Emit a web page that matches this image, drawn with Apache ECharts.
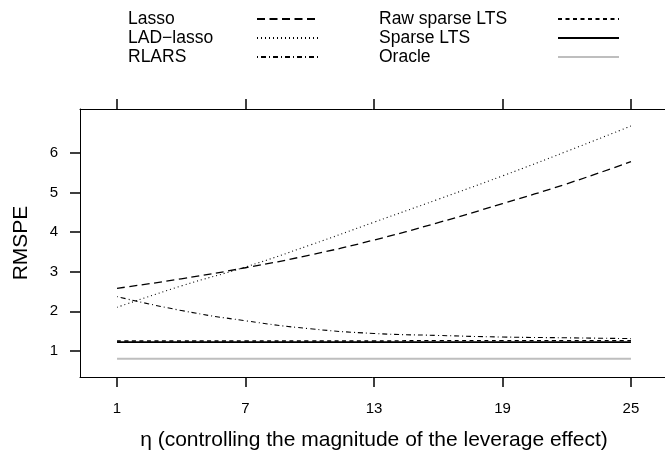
<!DOCTYPE html>
<html><head><meta charset="utf-8">
<script src="https://cdn.jsdelivr.net/npm/echarts@6/dist/echarts.min.js"></script>
<style>html,body{margin:0;padding:0;background:#fff}#c{width:665px;height:453px}</style>
</head><body><div id="c"></div>
<script>
var etaValues = [1, 4, 7, 10, 13, 16, 19, 22, 25];
var xTicks = [1, 7, 13, 19, 25];
var lasso = [2.58, 2.82, 3.10, 3.42, 3.80, 4.24, 4.72, 5.22, 5.78];
var ladLasso = [2.10, 2.64, 3.12, 3.67, 4.25, 4.83, 5.42, 6.04, 6.68];
var rlars = [2.37, 2.02, 1.76, 1.56, 1.44, 1.39, 1.35, 1.33, 1.31];
var rawSparseLTS = [1.25, 1.25, 1.25, 1.25, 1.25, 1.26, 1.26, 1.26, 1.26];
var sparseLTS = [1.22, 1.22, 1.22, 1.22, 1.22, 1.22, 1.22, 1.22, 1.22];
var oracle = [0.80, 0.80, 0.80, 0.80, 0.80, 0.80, 0.80, 0.80, 0.80];
var yTicks = [1, 2, 3, 4, 5, 6];
var xTitle = '\u03b7 (controlling the magnitude of the leverage effect)';
var yTitle = 'RMSPE';

function pts(arr) { return etaValues.map(function (x, i) { return [x, arr[i]]; }); }
var FONT = 'Liberation Sans';
function ser(name, arr, type, color, width) {
  return {
    name: name, type: 'line', data: pts(arr), smooth: true, symbol: 'none', showSymbol: false,
    lineStyle: { color: color, width: width, type: type },
    itemStyle: { color: color }, emphasis: { disabled: true }
  };
}
var chart = echarts.init(document.getElementById('c'));
function legendCol(left, names, textW) {
  return {
    orient: 'vertical', align: 'right', left: left, top: 5,
    itemHeight: 19, itemGap: 1, itemWidth: 61,
    selectedMode: false, inactiveColor: '#000',
    itemStyle: { opacity: 0 },
    data: names,
    formatter: function (n) { return '{a|' + n + '}'; },
    textStyle: {
      fontFamily: FONT, fontSize: 17.5, color: '#000',
      rich: { a: { width: textW, align: 'left', fontFamily: FONT, fontSize: 17.5, color: '#000', lineHeight: 19 } }
    }
  };
}
function axLine() { return { show: true, onZero: false, lineStyle: { color: '#000' } }; }
function axTick(vals) { return { show: true, length: 10, customValues: vals, lineStyle: { color: '#000', width: 1.5 } }; }
chart.setOption({
  animation: false,
  grid: { left: 80, top: 109, width: 588, height: 268, outerBoundsMode: 'none' },
  legend: [
    legendCol(123, ['Lasso', 'LAD\u2212lasso', 'RLARS'], 124),
    legendCol(374, ['Raw sparse LTS', 'Sparse LTS', 'Oracle'], 174)
  ],
  graphic: [
    { type: 'text', x: 374, y: 440, silent: true,
      style: { text: xTitle, font: '21px "Liberation Sans"', fill: '#000', textAlign: 'center', textVerticalAlign: 'middle' } },
    { type: 'text', x: 21, y: 243, rotation: Math.PI / 2, silent: true,
      style: { text: yTitle, font: '21px "Liberation Sans"', fill: '#000', textAlign: 'center', textVerticalAlign: 'middle' } }
  ],
  xAxis: [{
    type: 'value', min: -0.73, max: 26.73, position: 'bottom',
    axisLine: axLine(),
    axisTick: axTick(xTicks),
    axisLabel: { customValues: xTicks, margin: 24, fontFamily: FONT, fontSize: 15, color: '#000' },
    splitLine: { show: false }
  }, {
    type: 'value', min: -0.73, max: 26.73, position: 'top',
    axisLine: axLine(),
    axisTick: axTick(xTicks),
    axisLabel: { show: false },
    splitLine: { show: false }
  }],
  yAxis: [{
    type: 'value', min: 0.34, max: 7.11, position: 'left',
    axisLine: axLine(),
    axisTick: axTick(yTicks),
    axisLabel: { customValues: yTicks, margin: 22, fontFamily: FONT, fontSize: 15, color: '#000' },
    splitLine: { show: false }
  }, {
    type: 'value', min: 0.34, max: 7.11, position: 'right',
    axisLine: axLine(),
    axisTick: axTick(yTicks),
    axisLabel: { show: false }, splitLine: { show: false }
  }],
  series: [
    ser('Oracle', oracle, 'solid', '#bebebe', 2),
    ser('Sparse LTS', sparseLTS, 'solid', '#000', 1.6),
    ser('Raw sparse LTS', rawSparseLTS, [4, 3.5], '#000', 1.4),
    ser('RLARS', rlars, [1, 3, 5, 3], '#000', 1.1),
    ser('LAD\u2212lasso', ladLasso, [1, 3], '#000', 1.1),
    ser('Lasso', lasso, [8, 4.5], '#000', 1.3)
  ]
});
</script></body></html>
